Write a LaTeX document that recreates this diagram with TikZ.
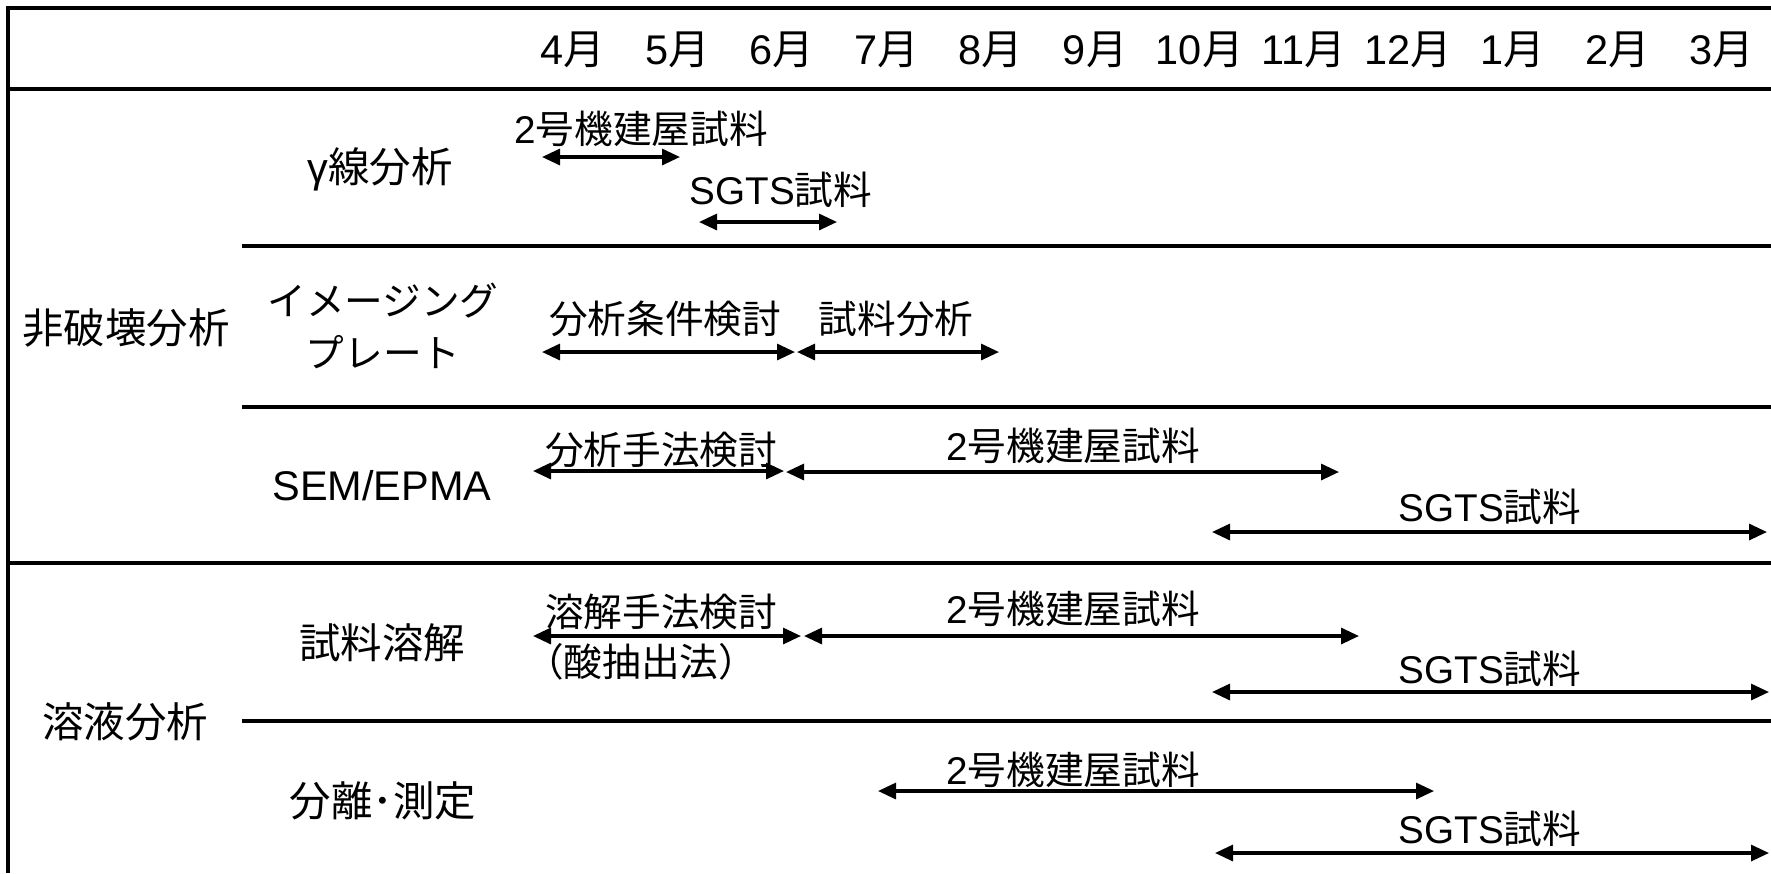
\documentclass[tikz,border=0pt]{standalone}
\usepackage{fontspec}
\setmainfont{Noto Sans CJK JP}
\newfontfamily\latnfont{Liberation Sans}
\newcommand{\latn}[1]{{\latnfont #1}}
\usetikzlibrary{arrows.meta}
\tikzset{
 rule/.style={line width=0.95pt},
 span/.style={{Triangle[length=1.8mm,width=1.6mm]}-{Triangle[length=1.8mm,width=1.6mm]}, line width=0.9pt},
 lab/.style={inner sep=0pt, font=\fontsize{11}{13}\selectfont},
 rowlab/.style={inner sep=0pt, align=center, font=\fontsize{11.8}{14.8}\selectfont},
 month/.style={inner sep=0pt, font=\fontsize{11.8}{14}\selectfont}
}
\begin{document}
\begin{tikzpicture}[x=0.1mm,y=-0.1mm]
\useasboundingbox (0,0) rectangle (1771,873);
\draw[rule] (8,873) -- (8,8) -- (1771,8);
\draw[rule] (8,89) -- (1771,89);
\draw[rule] (8,563) -- (1771,563);
\foreach \y in {246,407,721}
  \draw[rule] (242,\y) -- (1771,\y);
\foreach \m [count=\i] in {4,5,6,7,8,9,10,11,12,1,2,3}
  \node[month] (m\i) at ({573+104.45*(\i-1)},50) {\latn{\m}月};
\node[rowlab] (ndt) at (126,328) {非破壊分析};
\node[rowlab] (sol) at (125,722) {溶液分析};
\node[rowlab] (gam) at (380,169) {\latn{γ}線分析};
\node[rowlab, font=\fontsize{11}{14.8}\selectfont] (ip) at (383,326) {イメージング\\プレート};
\node[rowlab] (sem) at (382,486) {\latn{SEM/EPMA}};
\node[rowlab] (dis) at (382,643) {試料溶解};
\node[rowlab] (sep) at (383,801) {分離･測定};
\foreach \n/\xa/\xb/\y in {a1/542/680/157, a2/699/837/222, b1/542/795/352, b2/797/999/352,
  c1/533/784/471, c2/786/1339/472, c3/1212/1767/532, d1/533/801/636, d2/804/1359/636,
  d3/1212/1769/692, e1/878/1434/791, e2/1215/1769/853}{
  \coordinate (\n-s) at (\xa,\y);
  \coordinate (\n-e) at (\xb,\y);
  \draw[span] (\n-s) -- (\n-e);
}
\foreach \n/\x/\y/\t in {a1/641/129/\latn{2}号機建屋試料, a2/781/190/\latn{SGTS}試料,
  b1/665/319/分析条件検討, b2/896/319/試料分析, c1/661/450/分析手法検討,
  c2/1073/446/\latn{2}号機建屋試料, c3/1490/507/\latn{SGTS}試料,
  d1/661/612/溶解手法検討, d2/1073/609/\latn{2}号機建屋試料, d3/1490/669/\latn{SGTS}試料,
  e1/1073/770/\latn{2}号機建屋試料, e2/1490/829/\latn{SGTS}試料}
  \node[lab] (\n-t) at (\x,\y) {\t};
\node[lab] (d1-u) at (641,662) {（酸抽出法）};
\end{tikzpicture}
\end{document}
